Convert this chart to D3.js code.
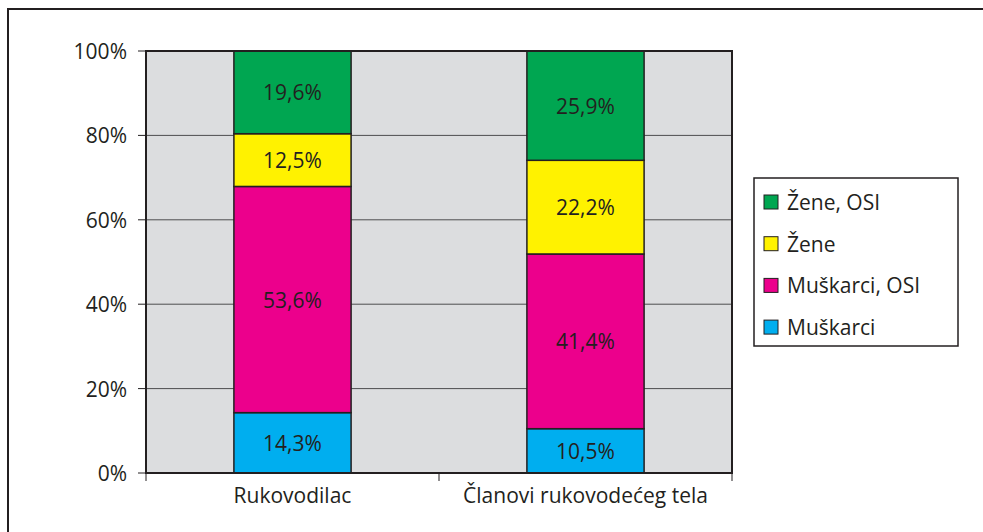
<!DOCTYPE html>
<html>
<head>
<meta charset="utf-8">
<script src="https://cdn.jsdelivr.net/npm/d3@7"></script>
<style>
  body { margin: 0; background: #fff; }
  svg { display: block; font-family: "Open Sans", "Noto Sans", sans-serif; }
  .grid-line { stroke: #4d4d4f; stroke-width: 1; }
  .frame { fill: none; stroke: #231f20; stroke-width: 2; }
  .seg { stroke: #231f20; stroke-width: 1.5; }
  .seg-label { fill: #231f20; font-size: 21px; }
  .tick-label { fill: #231f20; font-size: 21px; }
  .legend-label { fill: #231f20; font-size: 21px; }
</style>
</head>
<body>
<svg id="chart" width="983" height="532"></svg>
<script>
// Data
const categories = ["Rukovodilac", "Članovi rukovodećeg tela"];
const seriesNames = ["Muškarci", "Muškarci, OSI", "Žene", "Žene, OSI"];
const seriesColors = ["#00aeef", "#ec008c", "#fff200", "#00a651"];
const muskarci = [14.3, 10.5];
const muskarciOsi = [53.6, 41.4];
const zene = [12.5, 22.2];
const zeneOsi = [19.6, 25.9];
const yTicks = [0, 20, 40, 60, 80, 100];

const seriesValues = [muskarci, muskarciOsi, zene, zeneOsi];

const svg = d3.select("#chart");

// Outer frame (only top and left edges are visible in the crop)
svg.append("line").attr("class", "frame")
    .attr("x1", 8).attr("x2", 983).attr("y1", 9).attr("y2", 9);
svg.append("line").attr("class", "frame")
    .attr("x1", 8).attr("x2", 8).attr("y1", 8).attr("y2", 532);

const plot = { left: 146, right: 732, top: 51, bottom: 473 };

const xScale = d3.scaleBand()
    .domain(categories)
    .range([plot.left, plot.right])
    .paddingInner(0)
    .paddingOuter(0);
const yScale = d3.scaleLinear().domain([0, 100]).range([plot.bottom, plot.top]);

const barWidth = xScale.bandwidth() * 0.4;

// Plot background
svg.append("rect")
    .attr("x", plot.left).attr("y", plot.top)
    .attr("width", plot.right - plot.left)
    .attr("height", plot.bottom - plot.top)
    .attr("fill", "#dcdddf");

// Grid lines
yTicks.filter(t => t > 0 && t < 100).forEach(t => {
    svg.append("line")
        .attr("class", "grid-line")
        .attr("x1", plot.left).attr("x2", plot.right)
        .attr("y1", yScale(t)).attr("y2", yScale(t));
});

// Stacked bars
const rows = categories.map((c, i) => {
    const row = { category: c };
    seriesNames.forEach((s, j) => { row[s] = seriesValues[j][i]; });
    return row;
});
const stack = d3.stack().keys(seriesNames)(rows);

stack.forEach((layer, j) => {
    layer.forEach((d, i) => {
        const cx = xScale(categories[i]) + xScale.bandwidth() / 2;
        svg.append("rect")
            .attr("class", "seg")
            .attr("x", cx - barWidth / 2)
            .attr("y", yScale(d[1]))
            .attr("width", barWidth)
            .attr("height", yScale(d[0]) - yScale(d[1]))
            .attr("fill", seriesColors[j]);
    });
});

stack.forEach((layer, j) => {
    layer.forEach((d, i) => {
        const cx = xScale(categories[i]) + xScale.bandwidth() / 2;
        svg.append("text")
            .attr("class", "seg-label")
            .attr("x", cx)
            .attr("y", (yScale(d[0]) + yScale(d[1])) / 2)
            .attr("text-anchor", "middle")
            .attr("dominant-baseline", "central")
            .text(seriesValues[j][i].toFixed(1).replace(".", ",") + "%");
    });
});

// Plot border
svg.append("rect")
    .attr("class", "frame")
    .attr("x", plot.left).attr("y", plot.top)
    .attr("width", plot.right - plot.left)
    .attr("height", plot.bottom - plot.top);

// Y axis ticks and labels
yTicks.forEach(t => {
    svg.append("line")
        .attr("stroke", "#231f20").attr("stroke-width", 1)
        .attr("x1", plot.left - 8).attr("x2", plot.left)
        .attr("y1", yScale(t)).attr("y2", yScale(t));
    svg.append("text")
        .attr("class", "tick-label")
        .attr("x", plot.left - 19)
        .attr("y", yScale(t))
        .attr("text-anchor", "end")
        .attr("dominant-baseline", "central")
        .text(t + "%");
});

// X axis ticks (category boundaries) and labels
const boundaries = categories.map(c => xScale(c)).concat([plot.right]);
boundaries.forEach(x => {
    svg.append("line")
        .attr("stroke", "#231f20").attr("stroke-width", 1)
        .attr("x1", x).attr("x2", x)
        .attr("y1", plot.bottom).attr("y2", plot.bottom + 8);
});
categories.forEach(c => {
    svg.append("text")
        .attr("class", "tick-label")
        .attr("x", xScale(c) + xScale.bandwidth() / 2)
        .attr("y", 495)
        .attr("text-anchor", "middle")
        .attr("dominant-baseline", "central")
        .text(c);
});

// Legend
const legend = svg.append("g").attr("transform", "translate(754,178)");
legend.append("rect")
    .attr("width", 204).attr("height", 168)
    .attr("fill", "#fff").attr("stroke", "#231f20").attr("stroke-width", 1.5);

const legendOrder = d3.range(seriesNames.length).reverse();
legendOrder.forEach((j, k) => {
    const cy = 24 + k * 41.7;
    legend.append("rect")
        .attr("x", 10).attr("y", cy - 7)
        .attr("width", 14).attr("height", 14)
        .attr("fill", seriesColors[j])
        .attr("stroke", "#231f20").attr("stroke-width", 1);
    legend.append("text")
        .attr("class", "legend-label")
        .attr("x", 33).attr("y", cy)
        .attr("dominant-baseline", "central")
        .text(seriesNames[j]);
});
</script>
</body>
</html>
